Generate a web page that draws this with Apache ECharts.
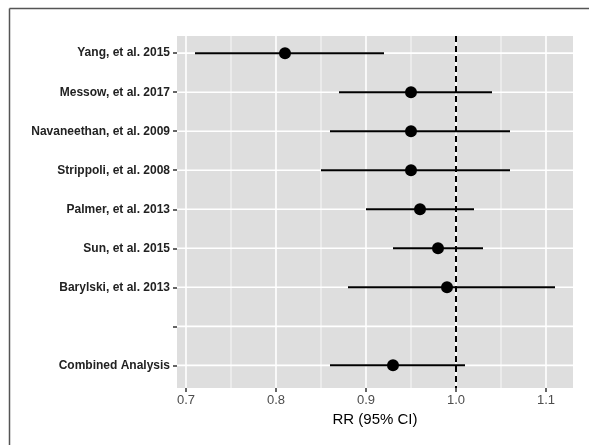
<!DOCTYPE html>
<html>
<head>
<meta charset="utf-8">
<script src="https://cdn.jsdelivr.net/npm/echarts@6/dist/echarts.min.js"></script>
<style>html,body{margin:0;padding:0;background:#fff;}#c{width:589px;height:445px;}</style>
</head>
<body>
<div id="c"></div>
<script>
var studies = ["Yang, et al. 2015","Messow, et al. 2017","Navaneethan, et al. 2009","Strippoli, et al. 2008","Palmer, et al. 2013","Sun, et al. 2015","Barylski, et al. 2013","","Combined Analysis"];
var rr    = [0.81, 0.95, 0.95, 0.95, 0.96, 0.98, 0.99, null, 0.93];
var lower = [0.71, 0.87, 0.86, 0.85, 0.90, 0.93, 0.88, null, 0.86];
var upper = [0.92, 1.04, 1.06, 1.06, 1.02, 1.03, 1.11, null, 1.01];
var xTicks = [0.7, 0.8, 0.9, 1.0, 1.1];
var xMinor = [0.75, 0.85, 0.95, 1.05];
var refValue = 1.0;
var xName = "RR (95% CI)";

var rowIdx = studies.map(function(_, i){ return i; });
var ciData = [], ptData = [];
for (var i = 0; i < studies.length; i++) {
  if (rr[i] != null) {
    ciData.push([lower[i], upper[i], i]);
    ptData.push([rr[i], i]);
  }
}
var gridData = [];
xMinor.forEach(function(v){ gridData.push([v, 0, 0]); });
xTicks.forEach(function(v){ gridData.push([v, 0, 1]); });
rowIdx.forEach(function(v){ gridData.push([v, 1, 1]); });

var chart = echarts.init(document.getElementById('c'), null, {renderer:'canvas'});
chart.setOption({
  animation: false,
  backgroundColor: '#fff',
  graphic: [
    {type:'line', shape:{x1:9.5, y1:8.5, x2:589, y2:8.5}, style:{stroke:'#555', lineWidth:1.5}, z:100},
    {type:'line', shape:{x1:9.5, y1:8.5, x2:9.5, y2:445}, style:{stroke:'#555', lineWidth:1.5}, z:100}
  ],
  grid: {left:177, right:16, top:36, bottom:57, show:true, backgroundColor:'#DEDEDE', borderWidth:0},
  xAxis: {
    type:'value', min:0.69, max:1.13, position:'bottom',
    name: xName, nameLocation:'middle', nameGap:24,
    nameTextStyle:{color:'#000', fontSize:15, fontFamily:'Liberation Sans'},
    axisLine:{show:false, onZero:false},
    axisTick:{show:true, customValues:xTicks, length:4, lineStyle:{color:'#333', width:1.5}},
    axisLabel:{customValues:xTicks, color:'#4D4D4D', fontSize:13, fontFamily:'Liberation Sans', margin:6,
      formatter:function(v){ return v.toFixed(1); }},
    splitLine:{show:false}
  },
  yAxis: {
    type:'value', inverse:true, min:-0.44, max:8.58, position:'left',
    axisLine:{show:false, onZero:false},
    axisTick:{show:true, customValues:rowIdx, length:4, lineStyle:{color:'#333', width:1.5}},
    axisLabel:{customValues:rowIdx, color:'#222', fontSize:12, fontWeight:'bold', fontFamily:'Liberation Sans', margin:7,
      formatter:function(v){ return studies[Math.round(v)] || ''; }},
    splitLine:{show:false}
  },
  series: [
    {type:'custom', z:1, silent:true, data: gridData, encode:{x:-1, y:-1},
     renderItem:function(params, api){
       var cs = params.coordSys;
       var v = api.value(0), horiz = api.value(1) === 1, major = api.value(2) === 1;
       var w = major ? 1.6 : 0.8;
       var shape;
       if (horiz) {
         var y = api.coord([1.0, v])[1];
         shape = {x1: cs.x, y1: y, x2: cs.x + cs.width, y2: y};
       } else {
         var x = api.coord([v, 0])[0];
         shape = {x1: x, y1: cs.y, x2: x, y2: cs.y + cs.height};
       }
       return {type:'line', shape: shape, style:{stroke:'#fff', lineWidth:w}};
     }},
    {type:'line', data:[], z:4, silent:true,
     markLine:{silent:true, symbol:'none', label:{show:false}, z:4, animation:false,
       data:[{xAxis: refValue, lineStyle:{color:'#000', width:2, type:[6,4]}}]}},
    {type:'custom', z:3, data: ciData, encode:{x:[0,1], y:2},
     renderItem:function(params, api){
       var a = api.coord([api.value(0), api.value(2)]);
       var b = api.coord([api.value(1), api.value(2)]);
       return {type:'line', shape:{x1:a[0], y1:a[1], x2:b[0], y2:b[1]}, style:{stroke:'#000', lineWidth:2}};
     }},
    {type:'scatter', z:5, data: ptData, symbol:'circle', symbolSize:12, itemStyle:{color:'#000', opacity:1}}
  ]
});
</script>
</body>
</html>
